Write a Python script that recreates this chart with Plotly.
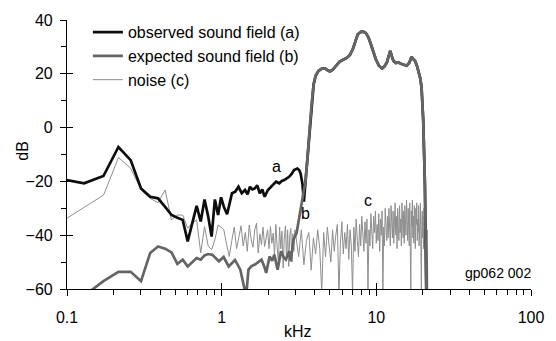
import plotly.graph_objects as go

# Observed sound field (a) below the pass band
OBS_LOW_KHZ = [0.086, 0.129, 0.172, 0.215, 0.258, 0.301, 0.345, 0.388, 0.431, 0.474,
               0.517, 0.560, 0.603, 0.646, 0.689, 0.732, 0.775, 0.818, 0.861, 0.904,
               0.948, 0.991, 1.034, 1.084, 1.166, 1.224, 1.285, 1.349, 1.415, 1.470,
               1.524, 1.580, 1.637, 1.700, 1.762, 1.830, 1.896, 1.991, 2.089, 2.170,
               2.248, 2.360, 2.450, 2.537, 2.630, 2.729, 2.835, 2.935, 3.084, 3.170,
               3.237, 3.330, 3.400]
OBS_LOW_DB = [-18.8, -20.7, -18.0, -7.2, -12.1, -22.6, -25.7, -26.3, -29.5, -32.5,
              -33.5, -34.3, -42.3, -35.5, -29.1, -34.9, -26.7, -33.0, -40.5, -26.7,
              -32.5, -25.9, -29.5, -32.2, -24.4, -23.8, -22.0, -24.4, -23.2, -24.8,
              -22.0, -23.0, -22.6, -21.5, -24.4, -23.0, -25.7, -23.2, -22.0, -21.0,
              -20.1, -20.7, -19.8, -19.5, -19.0, -18.3, -17.2, -15.8, -15.2, -15.8,
              -17.0, -21.0, -27.5]

# Expected sound field (b) below the pass band
EXP_LOW_KHZ = [0.086, 0.129, 0.172, 0.215, 0.258, 0.301, 0.345, 0.388, 0.431, 0.474,
               0.517, 0.560, 0.603, 0.646, 0.689, 0.732, 0.775, 0.818, 0.871, 0.960,
               1.03, 1.11, 1.22, 1.32, 1.38, 1.415, 1.44, 1.49, 1.56, 1.64,
               1.72, 1.81, 1.90, 1.94, 2.04, 2.12, 2.19, 2.30, 2.42, 2.51,
               2.60, 2.73, 2.80, 2.91, 3.05, 3.19, 3.33]
EXP_LOW_DB = [-68.0, -62.5, -57.1, -53.6, -53.6, -57.1, -46.6, -44.2, -45.0, -46.4,
              -50.7, -49.1, -51.6, -50.0, -48.5, -49.1, -47.5, -47.0, -47.3, -49.7,
              -48.1, -51.6, -49.2, -52.8, -57.7, -59.6, -62.7, -52.8, -51.5, -50.9,
              -50.0, -49.1, -52.2, -54.0, -47.9, -49.5, -47.3, -52.8, -46.0, -48.0,
              -49.1, -46.0, -49.7, -41.7, -39.2, -33.0, -27.0]

# Pass band, common to (a) and (b)
BAND_KHZ = [3.48, 3.58, 3.66, 3.745, 3.82, 3.93, 4.05, 4.23, 4.45, 4.66,
            4.85, 5.01, 5.20, 5.40, 5.80, 6.10, 6.40, 6.75, 7.05, 7.30,
            7.58, 7.96, 8.25, 8.57, 8.90, 9.22, 9.55, 9.91, 10.4, 10.9,
            11.3, 11.7, 12.0, 12.3, 12.6, 12.9, 13.4, 13.9, 14.6, 15.2,
            15.7, 16.3, 16.9, 17.3, 17.8, 18.3, 18.7, 19.2, 19.6, 20.1,
            20.6, 20.8, 21.0, 21.2]
BAND_DB = [-20.0, -12.0, -6.0, 3.0, 9.0, 16.0, 19.3, 21.1, 21.9, 22.0,
           21.3, 20.9, 21.4, 22.4, 24.5, 25.2, 25.8, 27.0, 29.2, 31.8,
           34.7, 35.6, 35.7, 35.1, 33.5, 31.0, 28.0, 25.5, 23.0, 22.0,
           22.8, 24.2, 26.5, 28.5, 26.5, 24.8, 24.0, 24.2, 23.6, 23.2,
           23.0, 24.0, 26.3, 25.5, 24.8, 23.0, 21.1, 18.5, 15.0, 2.7,
           -20.7, -39.1, -59.0, -75.0]

# Noise (c): FFT bins of 43.07 Hz, every bin up to 3 kHz, every third above
BIN_KHZ = 0.04307
NOISE_BINS = list(range(2, 70)) + list(range(70, 503, 3))
NOISE_DB = [
    -36.0, -29.5, -25.1, -11.1, -15.2, -23.2, -26.3, -27.9, -23.2, -34.3,
    -32.5, -32.5, -37.4, -35.5, -34.3, -46.6, -36.8, -44.0, -45.4, -41.7,
    -36.2, -37.0,
    -38.0, -43.5, -47.9, -42.0, -37.0, -45.0, -40.5, -36.5, -44.0, -39.0,
    -46.0, -36.2, -41.5, -44.5, -38.0, -35.5, -46.6, -39.5, -43.5, -37.0,
    -44.2, -40.0, -38.0, -45.0, -36.8, -43.0, -39.2, -47.9, -36.0, -44.0,
    -50.3, -37.0, -45.0, -38.5, -52.2, -41.0, -36.5, -49.0, -38.0, -51.6,
    -40.0, -37.5, -50.0, -39.5, -46.0, -38.0,
    -40, -48, -38, -51, -42, -39, -53, -41, -47, -38,
    -45, -61, -39, -48, -37, -44, -50, -38, -46, -40,
    -36, -62, -43, -35, -47, -39, -45, -36, -49, -38,
    -44, -62, -37, -46, -34, -42, -48, -36, -44, -33,
    -41, -46, -35, -43, -34, -61, -38, -44, -32, -40,
    -45, -33, -39, -31, -43, -36, -42, -32, -46, -34,
    -40, -31, -62, -37, -44, -30, -39, -42, -33, -41,
    -30, -38, -44, -29, -36, -41, -31, -43, -35, -28,
    -40, -33, -45, -30, -37, -42, -29, -39, -34, -44,
    -28, -37, -41, -31, -43, -29, -36, -40, -27, -38,
    -42, -30, -35, -44, -28, -39, -61, -31, -37, -27,
    -41, -33, -43, -29, -38, -45, -30, -36, -28, -42,
    -34, -39, -29, -44, -32, -37, -28, -46, -60, -35,
    -31, -41, -33, -45, -30, -38, -43, -32, -47, -36,
    -42, -50, -38, -58, -68,
]
NOISE_KHZ = [BIN_KHZ * k for k in NOISE_BINS]

X_MAJOR = [0.1, 1, 10, 100]
X_MINOR = [m * d for d in (0.1, 1, 10) for m in range(2, 10)]
Y_MAJOR = [-60, -40, -20, 0, 20, 40]

FONT = "Liberation Sans, Arial, sans-serif"

fig = go.Figure()

fig.add_trace(go.Scatter(
    x=NOISE_KHZ, y=NOISE_DB, mode="lines", name="noise (c)",
    line=dict(color="#8e8e8e", width=1), legendrank=3,
))
fig.add_trace(go.Scatter(
    x=OBS_LOW_KHZ + BAND_KHZ, y=OBS_LOW_DB + BAND_DB, mode="lines",
    name="observed sound field (a)",
    line=dict(color="#0d0d0d", width=2.7), legendrank=1,
))
fig.add_trace(go.Scatter(
    x=EXP_LOW_KHZ + BAND_KHZ, y=EXP_LOW_DB + BAND_DB, mode="lines",
    name="expected sound field (b)",
    line=dict(color="#656565", width=2.7), legendrank=2,
))

# curve labels
fig.add_annotation(x=0.352, y=-14.3, text="a", showarrow=False)
fig.add_annotation(x=0.542, y=-31.8, text="b", showarrow=False)
fig.add_annotation(x=0.943, y=-27.2, text="c", showarrow=False)
fig.add_annotation(xref="paper", x=1.0035, y=-54.0, text="gp062 002",
                   showarrow=False, xanchor="right", yanchor="middle",
                   font=dict(size=14))
# axis titles
fig.add_annotation(xref="paper", yref="paper", x=0.497, y=-0.157, text="kHz",
                   showarrow=False, xanchor="center", yanchor="middle")
fig.add_annotation(xref="paper", yref="paper", x=-0.0966, y=0.515, text="dB",
                   showarrow=False, textangle=-90,
                   xanchor="center", yanchor="middle")

axis_common = dict(showgrid=False, zeroline=False, linecolor="black",
                   tickcolor="black", tickwidth=1.2)

fig.update_layout(
    width=556, height=341,
    margin=dict(l=67, r=16, t=19, b=52),
    paper_bgcolor="white", plot_bgcolor="white",
    font=dict(family=FONT, size=16, color="black"),
    showlegend=True,
    legend=dict(x=0.045, y=1.018, xanchor="left", yanchor="top",
                bgcolor="rgba(0,0,0,0)", font=dict(size=16),
                tracegroupgap=0),
    xaxis=dict(type="log", range=[-1, 2], tickvals=X_MAJOR,
               ticktext=["0.1", "1", "10", "100"],
               ticks="outside", ticklen=6, showline=True, linewidth=1.2,
               ticklabelstandoff=8,
               minor=dict(tickvals=X_MINOR, ticks="outside", ticklen=5,
                          tickcolor="black", tickwidth=1),
               **axis_common),
    yaxis=dict(range=[-60, 40], tickvals=Y_MAJOR, ticks="outside", ticklen=6,
               showline=True, linewidth=1.2, ticklabelstandoff=4,
               minor=dict(dtick=10, ticks="outside", ticklen=5,
                          tickcolor="black", tickwidth=1),
               **axis_common),
    # inner halves of the major ticks, so they cross the axis lines
    xaxis2=dict(type="log", range=[-1, 2], overlaying="x", anchor="y",
                side="bottom", tickvals=X_MAJOR, ticks="inside", ticklen=6,
                showticklabels=False, showline=False, **axis_common),
    yaxis2=dict(range=[-60, 40], overlaying="y", anchor="x", side="left",
                tickvals=Y_MAJOR, ticks="inside", ticklen=6,
                showticklabels=False, showline=False, **axis_common),
)

# an invisible trace that puts the overlay axes in place
fig.add_trace(go.Scatter(x=[1], y=[0], xaxis="x2", yaxis="y2", mode="markers",
                         marker=dict(opacity=0), showlegend=False,
                         hoverinfo="skip"))

fig.write_html("out.html")
